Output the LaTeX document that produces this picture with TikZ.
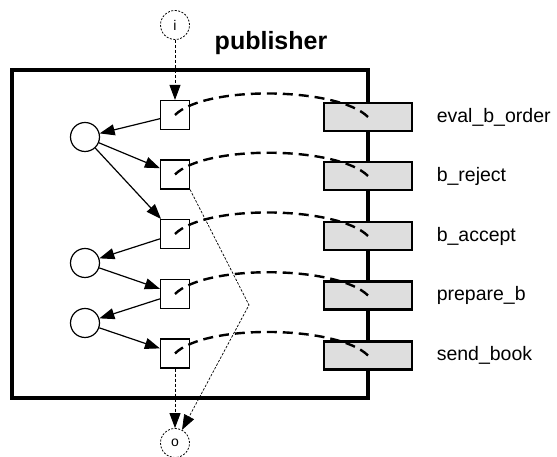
\documentclass[tikz,border=0pt]{standalone}
\usepackage{fontspec}
\setmainfont{Liberation Sans}
\usetikzlibrary{arrows.meta}
\usetikzlibrary{positioning}

\begin{document}
\begin{tikzpicture}[x=1pt, y=1pt,
  act/.style={draw, line width=1.2pt, minimum size=29pt, inner sep=0pt},
  place/.style={draw, circle, line width=1.2pt, minimum size=29pt, inner sep=0pt},
  port/.style={draw, circle, dash pattern=on 2pt off 1.5pt, line width=0.8pt,
    minimum size=29pt, inner sep=0pt, font=\fontsize{14}{16}\selectfont},
  opbox/.style={draw, fill=black!13, line width=2.5pt, minimum width=88pt,
    minimum height=28pt, inner sep=0pt},
  oplabel/.style={right=20pt of #1, font=\fontsize{19.5}{22}\selectfont},
  tip/.style={-{Triangle[length=15pt,width=11pt]}},
  arc/.style={tip, line width=1.2pt},
  flow/.style={tip, line width=0.9pt, dash pattern=on 3pt off 2pt},
  link/.style={line width=2.4pt, dash pattern=on 10pt off 6pt}]
  \useasboundingbox (0,0) rectangle (557,457);

  % the publisher box
  \node[font=\bfseries\fontsize{25}{30}\selectfont, anchor=base] (title) at (271,407) {publisher};
  \draw[line width=3.5pt] (12,387) rectangle (368,59);

  % ports
  \node[port] (in) at (175,432) {i};
  \node[port] (out) at (175,14) {o};

  % activities and places
  \node[act] (s1) at (175,342) {};
  \node[act] (s2) at (175,282.5) {};
  \node[act] (s3) at (175,223) {};
  \node[act] (s4) at (175,163) {};
  \node[act] (s5) at (175,103.5) {};
  \node[place] (c1) at (85,320) {};
  \node[place] (c2) at (85,194) {};
  \node[place] (c3) at (85,134) {};

  % operations on the right edge
  \node[opbox] (r1) at (368,340) {};
  \node[opbox] (r2) at (368,281) {};
  \node[opbox] (r3) at (368,221) {};
  \node[opbox] (r4) at (368,161.5) {};
  \node[opbox] (r5) at (368,101.5) {};
  \node[oplabel=r1] (l1) {eval\_b\_order};
  \node[oplabel=r2] (l2) {b\_reject};
  \node[oplabel=r3] (l3) {b\_accept};
  \node[oplabel=r4] (l4) {prepare\_b};
  \node[oplabel=r5] (l5) {send\_book};

  \draw[arc] (s1) -- (c1);
  \draw[arc] (c1) -- (s2);
  \draw[arc] (c1) -- (s3);
  \draw[arc] (s3) -- (c2);
  \draw[arc] (c2) -- (s4);
  \draw[arc] (s4) -- (c3);
  \draw[arc] (c3) -- (s5);

  \foreach \k in {1,...,5}
    \draw[link] (s\k.center) .. controls +(30,30) and +(-30,30) .. (r\k.center);

  \coordinate (bend) at (249,152);
  \draw[flow] (in) -- (s1);
  \draw[flow] (s5) -- (out);
  \draw[tip, line width=0.7pt, dash pattern=on 2.5pt off 1.5pt] (s2.south east) -- (bend) -- (out);
\end{tikzpicture}
\end{document}
